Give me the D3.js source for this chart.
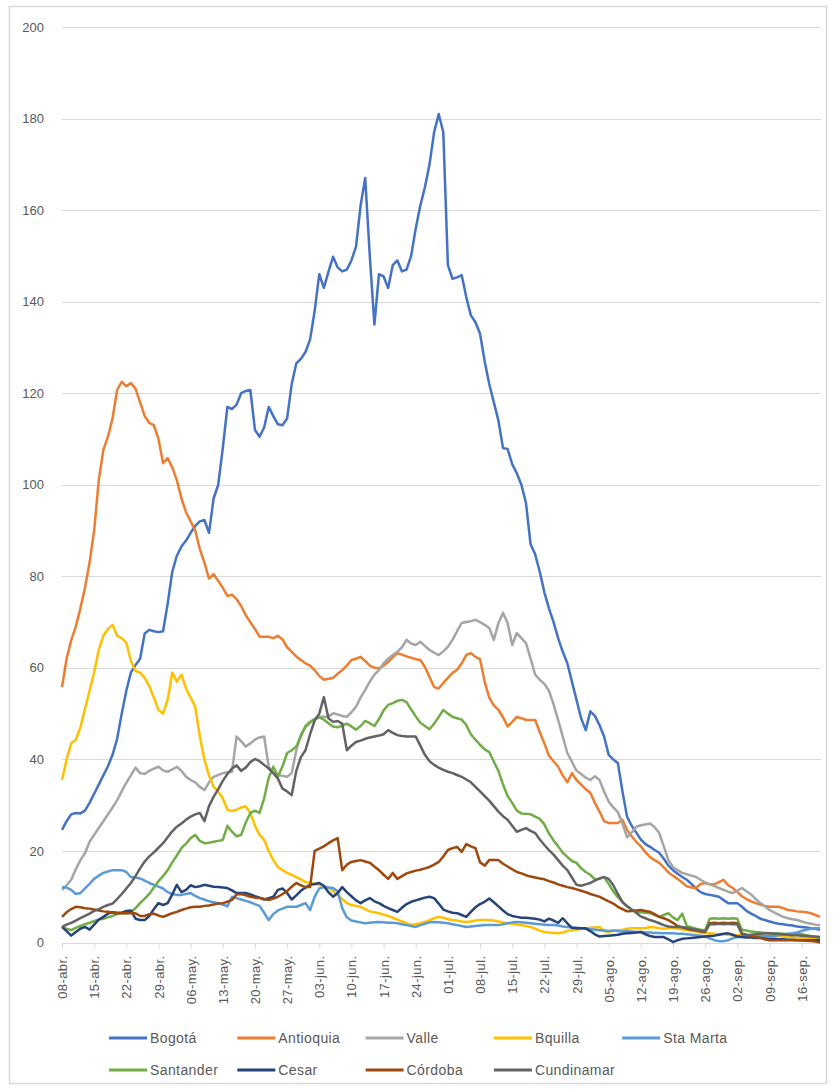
<!DOCTYPE html>
<html>
    <head>
        <meta charset="utf-8" />
        <title>Casos por departamento</title>
        <script src="https://d3js.org/d3.v7.min.js"></script>
        <style>
            body {
                margin: 0;
                background: #fff;
            }
            text {
                font-family: 'Liberation Sans', Arial, sans-serif;
                fill: #595959;
            }
        </style>
    </head>
    <body>
        <svg id="chart" width="833" height="1090"></svg>
        <script>
            // eje x: etiquetas semanales (cada 7 dias desde 08-abr)
            var tickLabels = ['08-abr.', '15-abr.', '22-abr.', '29-abr.', '06-may.', '13-may.', '20-may.', '27-may.',
                '03-jun.', '10-jun.', '17-jun.', '24-jun.', '01-jul.', '08-jul.', '15-jul.', '22-jul.', '29-jul.',
                '05-ago.', '12-ago.', '19-ago.', '26-ago.', '02-sep.', '09-sep.', '16-sep.'];
            var yTicks = [0, 20, 40, 60, 80, 100, 120, 140, 160, 180, 200];

            var bogota = [24.6, 26.5, 28, 28.3, 28.2, 28.8, 30.5, 32.5, 34.5, 36.5, 38.5, 41, 44.5, 50, 55, 59, 60.6, 62, 67.5, 68.3,
                68, 67.8, 68, 74, 81, 84.5, 86.5, 87.8, 89.5, 91, 92, 92.3, 89.5, 97, 100, 108, 117, 116.5, 117.5, 120,
                120.5, 120.7, 112, 110.5, 112.5, 117, 115, 113.2, 113, 114.5, 122, 126.5, 127.5, 129, 131.7, 138, 146, 143, 146.5, 149.8,
                147.5, 146.6, 147, 149, 152, 161, 167, 150, 135, 146, 145.5, 143, 148, 149, 146.6, 147, 150, 156, 161, 165,
                170, 177, 181, 177, 148, 145, 145.3, 145.8, 141, 137, 135.5, 133, 127, 122, 118, 114, 108, 107.8, 104.5, 102.5,
                100, 96, 87, 84.8, 81, 76.5, 73, 70, 66.5, 63.5, 61, 57, 53, 49, 46.4, 50.5, 49.5, 47.5, 45, 41,
                40, 39.2, 33, 27.5, 25.5, 24, 22.5, 21.5, 20.9, 20.2, 19.6, 18.3, 16.8, 15.8, 15, 14.3, 13.7, 12.8, 11.8, 11,
                10.6, 10.4, 10.2, 10, 9.3, 8.6, 8.6, 8.6, 7.8, 6.9, 6.3, 5.8, 5.2, 4.9, 4.6, 4.3, 4.1, 4, 3.8, 3.7,
                3.5, 3.4, 3.3, 3.1, 3, 2.8];

            var antioquia = [55.8, 62, 66, 69, 73, 77.5, 83, 90, 101, 107.6, 110.5, 114.5, 120.7, 122.5, 121.5, 122.2, 121, 118, 115, 113.5,
                113, 110, 104.7, 105.8, 103.8, 101, 97, 94, 92, 90, 86, 83, 79.5, 80.5, 79, 77.5, 75.7, 76, 75, 73.5,
                71.5, 70, 68.5, 66.8, 66.8, 66.8, 66.5, 67, 66.2, 64.5, 63.5, 62.5, 61.7, 61, 60.5, 59.5, 58.2, 57.4, 57.6, 57.8,
                58.7, 59.5, 60.5, 61.7, 62, 62.4, 61.5, 60.5, 60, 59.9, 60.5, 61.3, 62.3, 63.2, 62.9, 62.5, 62.2, 61.9, 61.7, 60.2,
                58, 55.8, 55.5, 56.7, 57.8, 58.9, 59.6, 61, 62.8, 63.2, 62.4, 61.9, 57, 53.5, 51.8, 50.8, 49.2, 47.2, 48.2, 49.3,
                49, 48.6, 48.6, 48.6, 46, 43.5, 40.8, 39.6, 38.4, 36.5, 35, 37, 35.5, 34.5, 33.5, 32.7, 30.5, 28.6, 26.5, 26.1,
                26.1, 26.1, 26.8, 24.6, 23.2, 22, 21, 19.7, 18.7, 18, 17.4, 16.4, 15.3, 14.6, 13.9, 13.1, 12.3, 12, 11.9, 12.8,
                13, 12.7, 12.7, 13.2, 13.7, 12.5, 11.9, 11, 10.1, 9.5, 9, 8.6, 8.3, 8, 7.8, 7.8, 7.8, 7.5, 7.1, 7,
                6.8, 6.7, 6.6, 6.4, 6, 5.6];

            var valle = [11.5, 12.5, 13.7, 16, 18, 19.5, 22, 23.5, 25, 26.5, 28, 29.5, 31.1, 33, 34.9, 36.5, 38.2, 37, 36.8, 37.5,
                38, 38.4, 37.6, 37.3, 37.8, 38.4, 37.5, 36.2, 35.5, 35, 34, 33.3, 35, 36.2, 36.6, 37, 37.2, 37.3, 45, 44,
                42.8, 43.5, 44.3, 44.8, 45, 38.4, 37, 36.6, 36.4, 36.2, 37, 42, 45.5, 47, 48, 48.8, 49.3, 49.3, 49.3, 50.1,
                49.8, 49.5, 49.3, 50.3, 51.5, 53.5, 55.2, 57, 58.5, 59.5, 61, 62, 62.8, 63.5, 64.5, 66.1, 65.3, 65, 65.7, 64.8,
                63.9, 63.3, 62.8, 63.6, 64.6, 66.1, 68, 69.8, 70, 70.2, 70.5, 70, 69.4, 68.7, 66.1, 69.8, 72, 69.8, 65, 67.6,
                66.5, 65.4, 62, 58.5, 57.4, 56.5, 55, 52, 48.6, 45, 41.4, 39.5, 37.5, 36.8, 36, 35.5, 36.3, 35.5, 33, 30.8,
                29.5, 28.5, 26, 23, 24, 25.3, 25.6, 25.8, 26, 25.2, 23.9, 21, 18, 16.5, 15.8, 15.2, 14.9, 14.6, 14.3, 13.7,
                13.1, 12.7, 12.3, 11.9, 11.5, 11.1, 10.8, 11.3, 11.9, 11.2, 10.5, 9.5, 8.6, 7.9, 7.1, 6.6, 6.1, 5.6, 5.3, 5.1,
                4.9, 4.6, 4.3, 4.1, 3.9, 3.8];

            var bquilla = [35.5, 40, 43.5, 44.3, 47, 51, 55, 59, 64, 67, 68.5, 69.4, 67, 66.5, 65.5, 61.5, 59.3, 59, 57.8, 56,
                53.5, 50.8, 50, 53, 59, 57, 58.5, 55.5, 53.5, 51.5, 45, 40, 36.5, 34, 33, 31.5, 29, 28.7, 29, 29.5,
                29.7, 28.3, 25.5, 23.5, 22.4, 20, 18, 16.5, 15.8, 15.2, 14.8, 14.3, 13.8, 13.2, 13, 12.8, 12.6, 12.3, 12, 11.2,
                10.3, 9.5, 8.6, 8.2, 8, 7.8, 7.3, 6.8, 6.6, 6.4, 6.1, 5.8, 5.4, 5, 4.6, 4.2, 3.9, 4, 4.2, 4.5,
                4.9, 5.3, 5.6, 5.4, 5.1, 4.9, 4.8, 4.6, 4.5, 4.6, 4.8, 4.9, 4.9, 4.9, 4.8, 4.6, 4.4, 4.2, 4.1, 3.9,
                3.8, 3.6, 3.4, 3, 2.6, 2.3, 2.2, 2.1, 2, 2.2, 2.5, 2.7, 2.8, 3, 3.1, 3.2, 3.3, 3.4, 2.5, 2.3,
                2.5, 2.7, 2.8, 3, 3.1, 3.1, 3.1, 3.1, 3.4, 3.3, 3.1, 3, 3.1, 3.2, 3, 2.9, 2.7, 2.5, 2.4, 2.2,
                2, 2, 1.9, 1.8, 1.8, 1.7, 1.6, 1.6, 1.6, 1.5, 1.6, 1.5, 1.4, 1.4, 1.5, 1.6, 1.4, 1.3, 1.2, 1.1,
                1, 1, 1, 0.9, 0.9, 0.8];

            var staMarta = [12.1, 12, 11.5, 10.6, 10.8, 11.8, 12.8, 13.9, 14.6, 15.2, 15.5, 15.8, 15.8, 15.8, 15.4, 14.3, 14.2, 14, 13.5, 13,
                12.6, 12.2, 11.8, 11, 10.6, 10.4, 10.4, 10.6, 10.8, 10.2, 9.7, 9.4, 9, 8.8, 8.6, 8.3, 7.9, 10, 9.7, 9.4,
                9.1, 8.8, 8.4, 8, 6.5, 4.9, 6.2, 7, 7.4, 7.8, 7.8, 7.8, 8.2, 8.6, 7.1, 10, 11.8, 12.1, 12, 11.9,
                11.2, 7.5, 5.5, 4.8, 4.6, 4.4, 4.2, 4.3, 4.4, 4.5, 4.4, 4.3, 4.3, 4.2, 4, 3.8, 3.6, 3.4, 3.8, 4.1,
                4.4, 4.5, 4.4, 4.3, 4.2, 4, 3.8, 3.6, 3.4, 3.5, 3.6, 3.7, 3.8, 3.8, 3.8, 3.8, 4, 4.2, 4.4, 4.5,
                4.4, 4.3, 4.2, 4.1, 4, 3.9, 3.8, 3.8, 3.7, 3.5, 3.4, 3.3, 3.2, 3.1, 3, 2.9, 2.8, 2.7, 2.6, 2.5,
                2.6, 2.5, 2.4, 2.5, 2.4, 2.3, 2.3, 2.2, 2.2, 2.1, 2.1, 2, 2, 2, 1.9, 1.9, 1.8, 1.7, 1.6, 1.5,
                1.3, 0.9, 0.5, 0.3, 0.3, 0.5, 0.9, 1.2, 1.2, 1.3, 1.3, 1.3, 1.4, 1.4, 1.5, 1.5, 1.6, 1.7, 1.9, 2,
                2.2, 2.5, 2.8, 3, 3.1, 3.1];

            var santander = [3.4, 3, 2.7, 3.2, 3.6, 4, 4.3, 4.7, 5, 5.2, 5.5, 5.8, 6.2, 6.4, 6.4, 6.6, 7.5, 8.6, 9.6, 10.6,
                12, 13.4, 14.5, 15.8, 17.5, 19, 20.6, 21.6, 22.8, 23.5, 22.2, 21.7, 21.8, 22, 22.2, 22.4, 25.5, 24.2, 23.2, 23.5,
                26.2, 28.3, 28.8, 28.3, 31.5, 36, 38.4, 36.2, 38.5, 41.4, 42, 42.8, 45, 47.3, 48.2, 48.8, 49.2, 48.7, 47.9, 47.2,
                47, 47.4, 47.8, 47.2, 46.5, 47.3, 48.4, 47.9, 47.3, 48.8, 50.7, 51.9, 52.3, 52.8, 53, 52.5, 50.9, 49.4, 48, 47.3,
                46.6, 47.8, 49.3, 50.8, 50, 49.3, 49, 48.7, 47.5, 45.5, 44.3, 43.2, 42.2, 41.6, 39.5, 37.5, 34.5, 32, 30.5, 28.8,
                28.2, 28.1, 28, 27.5, 27, 25.8, 23.8, 22.3, 21, 19.6, 18.7, 17.8, 17.4, 16.2, 15.4, 14.8, 13.8, 13.9, 14.3, 12.8,
                11.2, 9.9, 8.9, 7.8, 7.2, 6.7, 6.6, 6.5, 6.4, 6, 5.6, 6, 6.4, 5.5, 4.9, 6.3, 3.6, 3.3, 3, 2.8,
                2.7, 5.2, 5.3, 5.2, 5.3, 5.2, 5.3, 5.2, 2.8, 2.6, 2.4, 2.3, 2.2, 2.1, 2, 2, 1.9, 1.9, 1.8, 1.8,
                1.8, 1.8, 1.6, 1.4, 1.2, 1];

            var cesar = [3.4, 2.5, 1.5, 2.3, 3, 3.4, 2.8, 3.9, 5, 5.6, 6.3, 6.6, 6.5, 6.5, 6.9, 7, 5.2, 4.9, 4.9, 5.8,
                7.3, 8.6, 8.2, 8.6, 10.5, 12.6, 11, 11.5, 12.5, 12.1, 12.3, 12.6, 12.4, 12.2, 12.1, 12, 11.9, 11.4, 10.8, 10.8,
                10.8, 10.5, 10.1, 9.8, 9.4, 9.7, 10, 11.5, 11.8, 10.8, 9.4, 10.3, 11.3, 12, 12.6, 12.8, 13, 12.4, 11, 10,
                10.8, 12.1, 11, 10.1, 9.2, 8.6, 9.2, 9.7, 9, 8.6, 8, 7.5, 7.1, 6.7, 7.6, 8.4, 8.9, 9.2, 9.5, 9.8,
                10, 9.7, 8.5, 7.2, 6.8, 6.5, 6.4, 6, 5.6, 6.7, 7.7, 8.4, 8.9, 9.6, 8.8, 7.9, 7, 6.2, 5.8, 5.6,
                5.4, 5.4, 5.3, 5.2, 5, 4.6, 5.2, 4.8, 4.3, 5.3, 4.2, 3.2, 3.1, 3.1, 3.1, 2.5, 1.8, 1.3, 1.4, 1.5,
                1.6, 1.7, 1.9, 2, 2.1, 2.2, 2.3, 1.8, 1.4, 1.2, 1.2, 1.2, 0.7, 0.1, 0.5, 0.8, 0.9, 1, 1.1, 1.2,
                1.3, 1.4, 1.5, 1.7, 1.9, 2, 1.7, 1.3, 1.2, 1.1, 1.1, 1, 1, 0.9, 0.8, 0.8, 0.7, 0.7, 0.6, 0.6,
                0.5, 0.5, 0.5, 0.5, 0.5, 0.5];

            var cordoba = [5.6, 6.6, 7.3, 7.8, 7.7, 7.5, 7.4, 7.2, 7, 6.8, 6.7, 6.5, 6.4, 6.4, 6.4, 6.4, 6.4, 5.8, 5.8, 6.2,
                6.3, 5.9, 5.6, 6, 6.4, 6.7, 7.1, 7.4, 7.7, 7.8, 7.8, 8, 8.1, 8.3, 8.5, 8.6, 8.9, 9.3, 10.5, 10.6,
                10.3, 10, 9.8, 9.7, 9.5, 9.3, 9.6, 10, 10.6, 11.2, 12.2, 13, 12.5, 12.1, 12.1, 20, 20.5, 21, 21.7, 22.3,
                22.8, 15.8, 17, 17.6, 17.8, 18, 17.7, 17.4, 16.6, 15.8, 14.8, 13.9, 15.2, 13.9, 14.5, 15.1, 15.4, 15.7, 15.9, 16.2,
                16.5, 17, 17.6, 18.8, 20.2, 20.6, 20.9, 19.8, 21.5, 21, 20.6, 17.5, 16.8, 18, 18, 18, 17.2, 16.6, 16, 15.4,
                15.1, 14.7, 14.4, 14.2, 14, 13.8, 13.4, 13.1, 12.7, 12.4, 12.1, 11.9, 11.6, 11.3, 11, 10.6, 10.3, 10, 9.5, 9,
                8.5, 7.8, 7.3, 6.8, 6.9, 7, 7.1, 6.9, 6.7, 6.2, 5.6, 5.3, 4.9, 4.3, 3.6, 3.3, 3, 2.8, 2.6, 2.4,
                2.3, 4.2, 4.3, 4.2, 4.3, 4.2, 4.3, 4.2, 2, 1.7, 1.4, 1.2, 1, 0.7, 0.5, 0.5, 0.5, 0.5, 0.5, 0.5,
                0.5, 0.5, 0.4, 0.3, 0.2, 0];

            var cundinamarca = [3.4, 3.9, 4.3, 4.8, 5.3, 5.8, 6.3, 6.9, 7.3, 7.8, 8.2, 8.5, 9.5, 10.6, 11.8, 13, 14.5, 16.2, 17.7, 18.8,
                19.7, 20.7, 21.7, 23, 24.3, 25.3, 26, 26.8, 27.5, 28, 28.3, 26.5, 29.8, 31.8, 33.5, 35.3, 36.8, 38, 38.7, 37.5,
                38.2, 39.4, 40.1, 39.6, 38.8, 38, 37, 35.8, 33.6, 33, 32.2, 37.5, 40.5, 42, 45.5, 48.5, 50, 53.6, 49, 48.2,
                48.4, 47.8, 42, 43, 43.8, 44.1, 44.5, 44.8, 45, 45.2, 45.5, 46.4, 45.8, 45.3, 45.1, 45, 45, 45, 43, 41,
                39.6, 38.8, 38.2, 37.7, 37.3, 37, 36.6, 36.2, 35.6, 35, 34, 33, 32, 31, 29.8, 28.6, 27.6, 26.8, 25.5, 24.2,
                24.6, 25, 24.4, 23.9, 22.5, 21.3, 20.2, 19.2, 18, 16.8, 15.8, 14.2, 12.6, 12.4, 12.7, 13, 13.5, 14, 14.3, 13.9,
                12.5, 10.6, 8.8, 8, 7.2, 6.5, 5.7, 5.3, 4.9, 4.6, 4.2, 3.8, 3.5, 3.4, 3.4, 3.4, 3.2, 3, 2.8, 2.6,
                2.4, 4, 4, 4.1, 4, 4.1, 4, 4, 1.8, 1.6, 1.7, 1.8, 1.9, 2, 2, 1.9, 1.9, 1.8, 1.7, 1.6,
                1.6, 1.5, 1.4, 1.3, 1.3, 1.2];

            var seriesNames = ['Bogotá', 'Antioquia', 'Valle', 'Bquilla', 'Sta Marta', 'Santander', 'Cesar', 'Córdoba', 'Cundinamar'];
            var seriesValues = [bogota, antioquia, valle, bquilla, staMarta, santander, cesar, cordoba, cundinamarca];
            var colors = ['#4472C4', '#ED7D31', '#A5A5A5', '#FFC000', '#5B9BD5', '#70AD47', '#264478', '#9E480E', '#636363'];

            var svg = d3.select('#chart');

            // marco del grafico
            svg.append('rect')
                .attr('x', 9.5)
                .attr('y', 6.5)
                .attr('width', 817)
                .attr('height', 1077)
                .attr('fill', 'none')
                .attr('stroke', '#d9d9d9')
                .attr('stroke-width', 1.5);

            var x = d3.scaleLinear().domain([0, 165]).range([62, 820]);
            var y = d3.scaleLinear().domain([0, 200]).range([942.5, 27]);

            // lineas de cuadricula
            svg.append('g')
                .selectAll('line')
                .data(yTicks)
                .enter()
                .append('line')
                .attr('x1', 62)
                .attr('x2', 821)
                .attr('y1', (d) => Math.round(y(d)) + 0.5)
                .attr('y2', (d) => Math.round(y(d)) + 0.5)
                .attr('stroke', '#d9d9d9')
                .attr('stroke-width', 1);

            svg.append('g')
                .selectAll('text')
                .data(yTicks)
                .enter()
                .append('text')
                .attr('x', 44)
                .attr('y', (d) => y(d))
                .attr('dy', '0.35em')
                .attr('text-anchor', 'end')
                .style('font-size', '13px')
                .text((d) => d);

            // eje x con ticks cada 7 dias
            var xAxis = d3
                .axisBottom(x)
                .tickValues(tickLabels.map((d, i) => i * 7))
                .tickFormat((d) => tickLabels[d / 7])
                .tickSize(5)
                .tickSizeOuter(0);

            var gx = svg.append('g').attr('transform', 'translate(0,' + (Math.round(y(0)) + 0.5) + ')').call(xAxis);
            gx.select('.domain').attr('stroke', '#d9d9d9').attr('d', 'M62,0H821');
            gx.selectAll('.tick line').attr('stroke', '#d9d9d9');
            gx.selectAll('.tick text')
                .attr('transform', 'rotate(-90)')
                .attr('x', -12)
                .attr('y', 0)
                .attr('dy', '0.35em')
                .attr('text-anchor', 'end')
                .style('font-family', "'Liberation Sans', Arial, sans-serif")
                .style('font-size', '13px')
                .style('letter-spacing', '0.4px')
                .attr('fill', '#595959');

            var line = d3
                .line()
                .x((d, i) => x(i))
                .y((d) => y(d));

            svg.append('g')
                .selectAll('path')
                .data(seriesValues)
                .enter()
                .append('path')
                .attr('d', line)
                .attr('fill', 'none')
                .attr('stroke', (d, i) => colors[i])
                .attr('stroke-width', 2.5)
                .attr('stroke-linejoin', 'round');

            // leyenda en dos filas
            var legend = svg
                .append('g')
                .selectAll('g')
                .data(seriesNames)
                .enter()
                .append('g')
                .attr('transform', (d, i) => 'translate(' + (109 + (i % 5) * 128.3) + ',' + (i < 5 ? 1038 : 1070) + ')');

            legend.append('line')
                .attr('x1', 0)
                .attr('x2', 38)
                .attr('stroke', (d, i) => colors[i])
                .attr('stroke-width', 3);

            legend.append('text')
                .attr('x', 41)
                .attr('dy', '0.35em')
                .style('font-size', '14px')
                .style('letter-spacing', '0.4px')
                .text((d) => d);
        </script>
    </body>
</html>
